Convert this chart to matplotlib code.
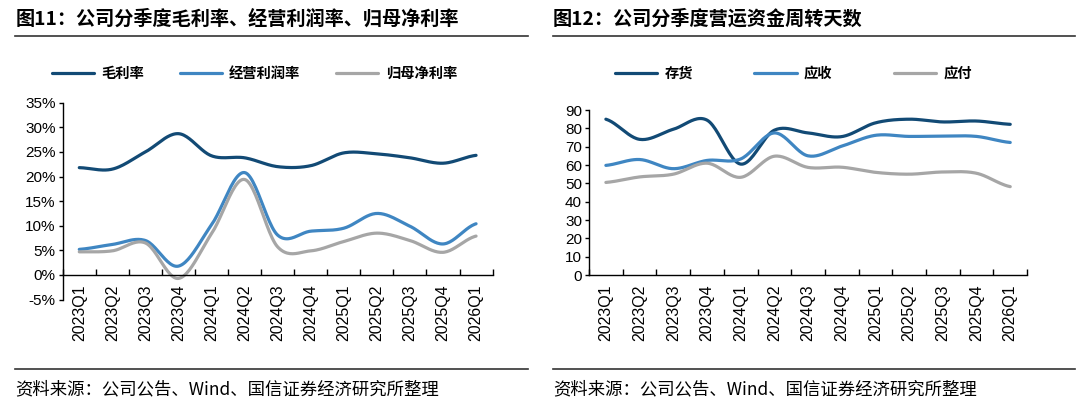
import numpy as np
import matplotlib
matplotlib.use("Agg")
import matplotlib.pyplot as plt
from matplotlib.lines import Line2D
from matplotlib.ticker import FuncFormatter

plt.rcParams['font.family'] = ['Liberation Sans', 'Noto Sans CJK SC', 'DejaVu Sans']

quarters = ['2023Q1', '2023Q2', '2023Q3', '2023Q4', '2024Q1', '2024Q2', '2024Q3',
            '2024Q4', '2025Q1', '2025Q2', '2025Q3', '2025Q4', '2026Q1']

# 图11 (%)
gross_margin = [21.8, 21.5, 25.0, 28.7, 24.2, 23.8, 22.0, 22.2, 24.8, 24.6, 23.8, 22.7, 24.3]
op_margin = [5.2, 6.2, 7.0, 1.8, 10.2, 20.8, 8.1, 8.9, 9.5, 12.5, 9.9, 6.3, 10.4]
net_margin = [4.7, 4.9, 6.5, -0.7, 8.4, 19.4, 5.7, 4.9, 6.8, 8.5, 7.0, 4.6, 7.9]

# 图12 (天)
inventory_days = [85.0, 74.0, 79.5, 84.5, 60.5, 79.0, 77.5, 75.5, 83.0, 85.0, 83.5, 84.0, 82.2]
receivable_days = [59.8, 63.0, 58.0, 62.5, 63.3, 77.5, 65.0, 70.3, 76.2, 75.6, 75.8, 75.6, 72.3]
payable_days = [50.5, 53.5, 55.0, 61.0, 53.3, 64.8, 58.7, 58.8, 56.0, 55.0, 56.2, 55.5, 48.2]

NAVY = '#124a75'
BLUE = '#3f86c2'
GRAY = '#a6a6a6'


def smooth(y, n=24):
    # Catmull-Rom style smoothing, like office "smoothed line"
    y = np.asarray(y, dtype=float)
    x = np.arange(len(y), dtype=float)
    xs, ys = [], []
    for i in range(len(y) - 1):
        p0 = y[i - 1] if i > 0 else y[i]
        p1, p2 = y[i], y[i + 1]
        p3 = y[i + 2] if i + 2 < len(y) else y[i + 1]
        t = np.linspace(0, 1, n, endpoint=False)
        m1 = (p2 - p0) / 2
        m2 = (p3 - p1) / 2
        h00 = 2 * t**3 - 3 * t**2 + 1
        h10 = t**3 - 2 * t**2 + t
        h01 = -2 * t**3 + 3 * t**2
        h11 = t**3 - t**2
        xs.append(x[i] + t)
        ys.append(h00 * p1 + h10 * m1 + h01 * p2 + h11 * m2)
    xs.append([x[-1]])
    ys.append([y[-1]])
    return np.concatenate(xs), np.concatenate(ys)


def style_axis(ax):
    ax.spines['top'].set_visible(False)
    ax.spines['right'].set_visible(False)
    ax.spines['bottom'].set_position(('data', 0))
    ax.spines['left'].set_linewidth(1.0)
    ax.spines['bottom'].set_linewidth(1.0)
    ax.set_xlim(-0.5, len(quarters) - 0.5)
    ax.set_xticks(range(len(quarters)))
    ax.set_xticklabels(quarters, rotation=90, fontsize=11.5)
    ax.set_xticks(np.arange(-0.5, len(quarters), 1.0), minor=True)
    ax.tick_params(axis='x', which='major', length=0, pad=7)
    ax.tick_params(axis='x', which='minor', direction='in', length=4, width=1.0)
    ax.tick_params(axis='y', direction='out', length=3, width=1.0, labelsize=11, pad=2)
    ax.patch.set_alpha(0)


fig = plt.figure(figsize=(10.8, 4.09), dpi=100)
legend_prop = {'family': ['Noto Sans CJK SC'], 'weight': 'bold', 'size': 10.3}

# ---- left chart ----
ax1 = fig.add_axes([0.0581, 0.2675, 0.398, 0.4815])
for vals, c, name in [(gross_margin, NAVY, '毛利率'), (op_margin, BLUE, '经营利润率'),
                      (net_margin, GRAY, '归母净利率')]:
    xs, ys = smooth(vals)
    ax1.plot(xs, ys, color=c, lw=2.3, label=name, solid_capstyle='round')
ax1.set_ylim(-5, 35)
ax1.set_yticks(range(-5, 36, 5))
ax1.yaxis.set_major_formatter(FuncFormatter(lambda v, p: f'{v:.0f}%'))
style_axis(ax1)
ax1.legend(loc='center left', bbox_to_anchor=(-0.055, 1.146), ncol=3, frameon=False,
           handlelength=2.95, handletextpad=0.5, columnspacing=2.5, prop=legend_prop)

# ---- right chart ----
ax2 = fig.add_axes([0.5454, 0.3276, 0.4056, 0.4034])
for vals, c, name in [(inventory_days, NAVY, '存货'), (receivable_days, BLUE, '应收'),
                      (payable_days, GRAY, '应付')]:
    xs, ys = smooth(vals)
    ax2.plot(xs, ys, color=c, lw=2.3, label=name, solid_capstyle='round')
ax2.set_ylim(0, 90)
ax2.set_yticks(range(0, 91, 10))
style_axis(ax2)
ax2.legend(loc='center left', bbox_to_anchor=(0.03, 1.218), ncol=3, frameon=False,
           handlelength=2.95, handletextpad=0.5, columnspacing=4.3, prop=legend_prop)

# ---- titles, rules, sources ----
H = 409.0
W = 1080.0
tkw = dict(family=['Noto Sans CJK SC'], fontsize=13.8, weight='bold', va='center', ha='left')
fig.text(16 / W, 1 - 19 / H, '图11：公司分季度毛利率、经营利润率、归母净利率', **tkw)
fig.text(553 / W, 1 - 19 / H, '图12：公司分季度营运资金周转天数', **tkw)
for x0, x1 in [(15, 528), (553, 1075)]:
    fig.add_artist(Line2D([x0 / W, x1 / W], [1 - 36 / H] * 2, color='#333333', lw=1.2))
    fig.add_artist(Line2D([x0 / W, x1 / W], [1 - 369 / H] * 2, color='#333333', lw=1.2))
skw = dict(family=['Noto Sans CJK SC'], fontsize=12.5, va='center', ha='left')
fig.text(15 / W, 1 - 389 / H, '资料来源：公司公告、Wind、国信证券经济研究所整理', **skw)
fig.text(553 / W, 1 - 389 / H, '资料来源：公司公告、Wind、国信证券经济研究所整理', **skw)

fig.savefig('out.png', dpi=100, facecolor='white')
